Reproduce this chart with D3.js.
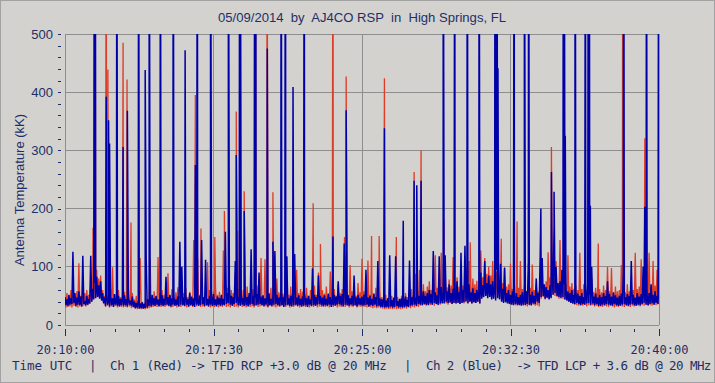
<!DOCTYPE html>
<html><head><meta charset="utf-8">
<script src="https://cdn.jsdelivr.net/npm/d3@7"></script>
<style>
html,body{margin:0;padding:0;background:#d4d2ce;}
svg{display:block;}
</style></head>
<body>
<svg id="chart" width="715" height="383"></svg>
<script>
// ---------- DATA ----------
const titleText = "05/09/2014  by  AJ4CO RSP  in  High Springs, FL";
const yLabelText = "Antenna Temperature (kK)";
const footerParts = ["Time UTC", "|", "Ch 1 (Red) -> TFD RCP +3.0 dB @ 20 MHz", "|", "Ch 2 (Blue)  -> TFD LCP + 3.6 dB @ 20 MHz"];
const xTickSeconds = [0, 450, 900, 1350, 1800];
const xTickLabels = ["20:10:00", "20:17:30", "20:25:00", "20:32:30", "20:40:00"];
const yTicks = [0, 100, 200, 300, 400, 500];
const sampleStep = 3; // seconds between noise samples

// Ch 2 (Blue), one row = 60 s
const blueNoise = [
48,34,44,33,52,35,46,36,126,38,55,33,47,35,58,34,49,32,119,36,
41,34,50,35,45,37,119,40,62,44,72,46,83,48,68,45,75,42,55,38,
47,33,52,35,44,32,49,34,46,31,53,35,43,33,50,32,45,34,48,33,
51,34,44,32,47,35,42,33,49,31,40,29,38,30,41,28,37,29,39,28,
36,29,115,30,44,33,48,32,52,34,46,33,50,35,44,32,47,34,51,33,
45,34,83,35,48,33,52,32,46,35,50,33,44,34,49,32,143,35,100,34,
47,33,51,35,44,32,55,34,48,33,46,31,52,35,45,33,50,34,146,36,
48,33,112,34,45,32,50,35,47,33,53,34,44,32,49,35,46,33,52,34,
45,34,160,36,55,38,70,35,50,33,48,36,110,38,52,34,47,33,51,35,
46,33,52,34,48,32,55,35,130,36,50,33,47,34,53,35,90,36,49,34,
51,33,46,35,49,32,54,34,45,33,50,35,127,36,52,34,47,33,55,34,
48,31,52,34,118,35,46,33,50,32,55,34,122,35,47,33,51,34,45,32,
49,33,53,34,46,31,50,35,44,33,97,34,52,33,48,35,85,36,50,34,
47,32,51,34,45,33,54,35,48,31,46,34,52,33,49,35,75,36,50,34,
53,32,140,35,48,34,51,33,46,35,50,33,85,34,47,32,52,35,46,34,
49,33,52,34,95,35,47,32,50,34,45,33,53,35,48,32,110,33,46,31,
44,31,48,30,42,31,46,30,120,32,43,30,47,31,118,33,41,30,45,31,
46,30,44,31,49,32,43,31,111,33,48,34,52,35,47,33,55,36,50,35,
52,34,58,36,50,35,55,34,60,37,53,35,127,38,56,36,51,35,118,37,
65,38,54,37,120,40,58,38,70,39,55,36,62,38,57,37,75,38,56,36,
124,38,60,39,136,41,58,38,70,40,56,37,63,39,55,38,60,40,58,37,
90,45,68,48,110,50,72,46,85,48,70,44,75,45,66,42,95,46,70,44,
105,40,62,38,98,39,55,37,60,36,52,35,58,34,50,36,55,35,48,34,
52,33,56,35,50,34,58,36,95,35,52,34,57,37,50,36,80,40,55,38,
120,48,115,50,70,45,65,47,60,44,68,46,90,52,170,55,100,50,72,48,
75,46,95,48,70,44,62,42,58,40,55,38,60,37,52,36,57,38,54,36,
50,34,55,36,48,35,53,37,70,38,52,35,100,37,49,34,54,36,47,33,
52,33,48,35,55,34,50,36,75,35,53,34,49,33,56,36,51,34,47,33,
50,33,54,35,92,36,48,34,53,33,50,35,110,36,52,34,47,33,55,35,
49,34,53,36,100,38,56,35,51,34,55,36,70,37,52,35,58,38,50,36,
45];

// Ch 1 (Red), one row = 60 s
const redNoise = [
42,30,55,31,48,32,60,30,52,33,46,31,58,30,106,32,50,31,62,33,
55,32,60,34,52,36,70,40,78,45,72,48,95,50,80,46,85,42,60,36,
50,31,58,33,47,30,62,32,99,31,52,33,45,30,60,32,48,31,55,30,
57,31,50,30,63,32,46,29,55,30,44,28,50,27,42,28,115,27,40,28,
38,27,45,28,42,29,113,30,50,31,58,32,48,31,117,33,55,31,60,32,
52,31,58,33,89,32,50,30,62,31,47,33,56,30,65,32,50,31,58,33,
55,32,63,30,48,31,57,33,50,31,146,35,60,32,115,33,52,31,60,32,
48,31,55,33,108,32,60,30,50,32,58,31,66,33,52,30,57,32,49,31,
128,33,58,31,64,32,52,30,60,33,55,31,90,32,50,30,62,33,56,31,
60,32,54,30,66,33,50,31,58,32,62,30,52,33,68,31,55,32,115,33,
50,31,113,32,60,30,55,33,64,31,52,32,58,30,80,32,56,31,62,33,
54,32,60,31,117,33,52,30,66,32,58,31,50,33,95,32,55,30,62,31,
57,32,52,31,64,33,50,30,60,32,55,31,68,33,52,30,90,32,58,31,
60,33,54,31,66,32,52,30,92,32,57,31,62,33,50,30,70,32,55,31,
62,32,56,31,68,33,52,30,103,32,58,31,64,33,50,30,72,32,56,31,
114,32,58,31,66,30,111,31,52,30,60,29,55,30,64,29,50,30,58,29,
48,28,44,27,52,28,46,27,42,28,50,27,45,28,40,27,48,28,44,27,
50,28,46,29,55,28,48,30,58,29,62,31,52,30,88,32,60,31,95,33,
62,34,70,35,58,33,66,36,75,34,60,35,68,33,120,36,64,34,72,35,
124,36,70,38,95,37,65,35,78,38,68,36,117,38,72,37,82,39,66,36,
75,38,68,37,100,39,72,36,110,40,66,37,80,39,70,38,76,40,68,37,
128,50,82,55,115,58,88,52,100,55,85,50,110,54,80,48,92,52,78,46,
80,44,72,40,100,42,66,38,70,36,105,37,62,35,68,34,58,33,64,35,
110,34,62,33,68,35,58,32,105,34,64,33,104,35,60,33,70,34,58,32,
72,45,80,48,66,44,75,46,125,50,82,48,130,52,78,50,110,48,70,45,
146,48,78,45,105,44,70,42,120,40,66,38,72,36,62,35,68,34,60,33,
124,34,62,33,70,35,58,32,66,34,60,33,80,34,56,32,64,33,58,31,
62,32,56,31,68,33,60,32,100,31,58,33,98,32,54,30,66,32,58,31,
60,33,103,32,64,31,56,33,70,32,58,31,66,33,60,32,124,34,62,33,
66,32,113,34,60,33,72,35,58,33,124,34,64,33,110,35,68,34,95,36,
50];

// large spikes: [seconds after 20:10:00, antenna temperature kK]
const blueSpikes = [
[89,900],[92,900],[125,392],[132,352],[135,312],[157,900],[176,306],[189,368],
[223,900],[243,438],[255,900],[289,900],[328,900],[364,472],[395,275],[401,900],
[441,900],[495,900],[519,292],[529,900],[531,900],[543,196],[575,900],[578,900],
[613,475],[630,143],[655,900],[668,900],[691,409],[725,900],[812,152],[852,369],
[968,338],[1025,179],[1058,248],[1066,240],[1079,248],[1146,900],[1181,900],
[1219,900],[1255,900],[1303,900],[1306,900],[1309,900],[1312,441],[1361,900],
[1392,900],[1405,900],[1442,200],[1474,263],[1482,229],[1510,900],[1513,900],
[1516,325],[1546,900],[1577,900],[1586,900],[1589,900],[1592,205],[1693,900],
[1757,203],[1762,900],[1799,900]];

const redSpikes = [
[85,167],[91,900],[125,900],[130,439],[176,485],[188,422],[200,176],[395,395],
[412,166],[454,151],[483,196],[519,367],[523,162],[543,230],[577,900],[612,900],
[630,228],[752,209],[774,139],[812,900],[847,151],[852,427],[929,153],[952,153],
[968,424],[1004,151],[1058,263],[1079,300],[1148,179],[1228,142],[1322,148],
[1370,178],[1474,306],[1616,140],[1690,900],[1757,321]];

// ---------- LAYOUT ----------
const W = 715, H = 383;
const plot = {left: 65, right: 659, top: 34, bottom: 325};
const textColor = "#1d2f68";
const gridColor = "#8e8e8e";
const redColor = "#dc3c28";
const blueColor = "#0000a8";

const svg = d3.select("#chart");
svg.append("rect").attr("x",0.5).attr("y",0.5).attr("width",W-1).attr("height",H-1)
  .attr("fill","#d4d2ce").attr("stroke","#a2a2a2");

const x = d3.scaleLinear().domain([0, 1800]).range([plot.left, plot.right]);
const y = d3.scaleLinear().domain([0, 500]).range([plot.bottom, plot.top]);

// grid
const grid = svg.append("g").attr("stroke", gridColor).attr("stroke-width",1).attr("shape-rendering","crispEdges");
yTicks.forEach(v => grid.append("line").attr("x1",plot.left).attr("x2",plot.right).attr("y1",y(v)).attr("y2",y(v)));
xTickSeconds.forEach(v => grid.append("line").attr("x1",x(v)).attr("x2",x(v)).attr("y1",plot.top).attr("y2",plot.bottom));

// clip
svg.append("clipPath").attr("id","clip").append("rect")
  .attr("x",plot.left).attr("y",plot.top).attr("width",plot.right-plot.left).attr("height",plot.bottom-plot.top);

function series(noise, spikes){
  const pts = noise.map((v,i)=>[i*sampleStep, v]).concat(spikes.map(d=>[d[0], d[1]]));
  pts.sort((a,b)=>a[0]-b[0]);
  return pts;
}
const line = d3.line().x(d=>x(d[0])).y(d=>y(d[1]));
const dataG = svg.append("g").attr("clip-path","url(#clip)");
dataG.append("path").datum(series(redNoise, redSpikes)).attr("d", line)
  .attr("fill","none").attr("stroke",redColor).attr("stroke-width",1.3).attr("stroke-linejoin","bevel");
dataG.append("path").datum(series(blueNoise, blueSpikes)).attr("d", line)
  .attr("fill","none").attr("stroke",blueColor).attr("stroke-width",1.5).attr("stroke-linejoin","bevel");

// axes
const xMinor = d3.range(0, 1801, 75).filter(v => !xTickSeconds.includes(v));
const yMinor = d3.range(0, 501, 20).filter(v => !yTicks.includes(v));

const xAxis = svg.append("g").attr("transform",`translate(0,${plot.bottom+4})`)
  .call(d3.axisBottom(x).tickValues(xTickSeconds).tickFormat((d,i)=>xTickLabels[i]).tickSize(7).tickPadding(9));
const xAxisMinor = svg.append("g").attr("transform",`translate(0,${plot.bottom+4})`)
  .call(d3.axisBottom(x).tickValues(xMinor).tickFormat("").tickSize(3));
const yAxis = svg.append("g").attr("transform",`translate(${plot.left-4},0)`)
  .call(d3.axisLeft(y).tickValues(yTicks).tickSize(3).tickPadding(5));
const yAxisMinor = svg.append("g").attr("transform",`translate(${plot.left-4},0)`)
  .call(d3.axisLeft(y).tickValues(yMinor).tickFormat("").tickSize(3));

[xAxis, xAxisMinor, yAxis, yAxisMinor].forEach(g => {
  g.select(".domain").remove();
  g.selectAll(".tick line").attr("stroke", textColor).attr("shape-rendering","crispEdges");
  g.selectAll(".tick text").attr("fill", textColor);
});
xAxis.selectAll(".tick text").attr("font-family","'DejaVu Sans Mono', monospace").attr("font-size",12);
yAxis.selectAll(".tick text").attr("font-family","'Liberation Sans', Arial, sans-serif").attr("font-size",13);

// title
svg.append("text").attr("x",218).attr("y",22).attr("textLength",288).attr("lengthAdjust","spacingAndGlyphs")
  .attr("font-family","'Liberation Sans', Arial, sans-serif").attr("font-size",12.5)
  .attr("fill",textColor).style("white-space","pre").text(titleText);

// y label
svg.append("text").attr("transform","translate(24,190) rotate(-90)").attr("text-anchor","middle")
  .attr("font-family","'Liberation Sans', Arial, sans-serif").attr("font-size",13)
  .attr("fill",textColor).text(yLabelText);

// footer
const footerX = [12, 89, 110, 404, 426];
const footerSpacing = [0, 0, -0.25, 0, -0.58];
footerParts.forEach((t,i)=>{
  svg.append("text").attr("x",footerX[i]).attr("y",370)
    .attr("font-family","'DejaVu Sans Mono', monospace").attr("font-size",12.5)
    .attr("letter-spacing", footerSpacing[i])
    .attr("fill",textColor).style("white-space","pre").text(t);
});
</script>
</body></html>
